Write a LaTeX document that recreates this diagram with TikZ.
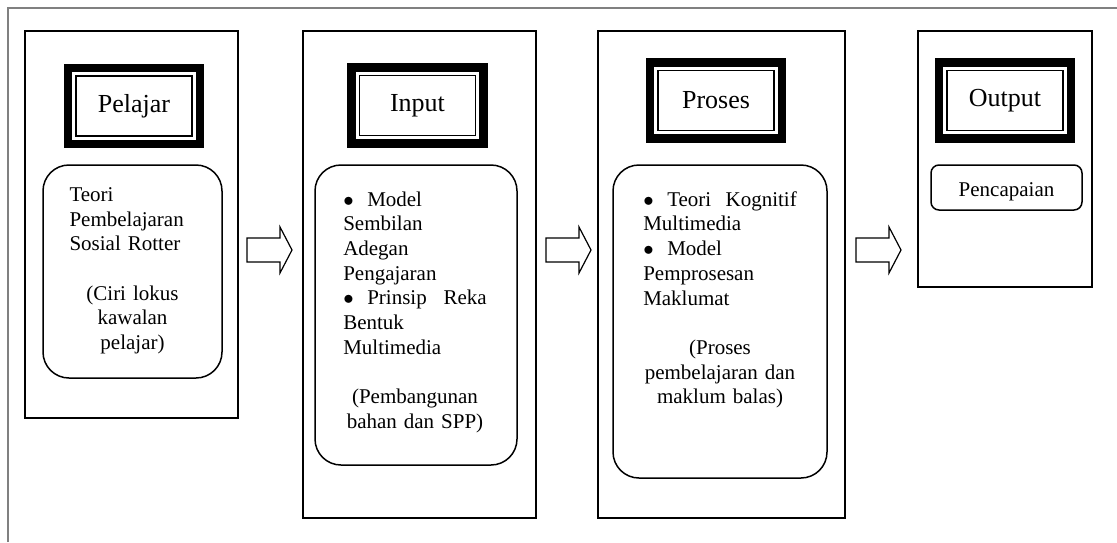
\documentclass[tikz,border=0pt]{standalone}
\usepackage{fontspec}
\setmainfont{Liberation Serif}
\usepackage{tikz}

\newcommand{\bulitem}[1]{\noindent\hangindent=24pt\hangafter=1\makebox[24pt][l]{$\bullet$}#1\par}

\begin{document}
\begin{tikzpicture}[x=1pt, y=-1pt,
    colbox/.style={draw=black, line width=1.2pt, inner sep=0pt},
    titlebox/.style={draw=black, line width=1.5pt, outer sep=0pt, inner sep=0pt, minimum width=116pt, minimum height=60pt, font=\fontsize{26}{30}\selectfont},
    thickframe/.style={draw=black, line width=8.5pt},
    roundbox/.style={draw=black, line width=1.5pt, rounded corners=26pt, inner sep=0pt},
    bodytext/.style={inner sep=0pt, align=left, font=\fontsize{21}{24.7}\selectfont},
    blockarrow/.style={draw=black, line width=1.2pt, fill=white}]
    \useasboundingbox (0,0) rectangle (1117,542);
    \draw[gray, line width=1.5pt] (8,542) -- (8,8) -- (1117,8);

    % the four stages
    \node (pelajarcol) at (131.5,224.5) [colbox, minimum width=213pt, minimum height=387pt] {};
    \node (inputcol) at (419.5,274.5) [colbox, minimum width=233pt, minimum height=487pt] {};
    \node (prosescol) at (721.5,274.5) [colbox, minimum width=247pt, minimum height=487pt] {};
    \node (outputcol) at (1005,159) [colbox, minimum width=174pt, minimum height=256pt] {};

    % titles
    \node (pelajar) at (134,106) [titlebox] {Pelajar};
    \node (input) at (417.5,105.5) [titlebox] {Input};
    \node (proses) at (716,100.5) [titlebox] {Proses};
    \node (output) at (1005,100.5) [titlebox] {Output};
    \foreach \t in {pelajar,input,proses,output}
        \draw[thickframe] ([shift={(-8pt,8pt)}]\t.north west) rectangle ([shift={(8pt,-8pt)}]\t.south east);

    % contents
    \node (teori) at (132.5,271.5) [roundbox, minimum width=179pt, minimum height=213pt] {};
    \node (model) at (416,315) [roundbox, minimum width=202pt, minimum height=300pt] {};
    \node (kognitif) at (720,321.5) [roundbox, minimum width=214pt, minimum height=313pt] {};
    \node (capai) at (1006.5,187.5) [roundbox, rounded corners=8pt, minimum width=151pt, minimum height=45pt, text height=18.4pt, text depth=0pt, font=\fontsize{21}{24.7}\selectfont] {Pencapaian};

    \node (teoritext) [bodytext, text width=126pt, anchor=north] at ([yshift=-23pt]teori.north) {Teori\\Pembelajaran\\Sosial Rotter\par\vspace{24.7pt}{\centering (Ciri lokus\\kawalan\\pelajar)\par}};
    \node (modeltext) [bodytext, text width=143.5pt, anchor=north] at ([xshift=-1pt, yshift=-27pt]model.north) {\bulitem{Model\\Sembilan\\Adegan\\Pengajaran}\bulitem{Prinsip\hfill Reka\\Bentuk\\Multimedia}\vspace{24.7pt}{\centering (Pembangunan\\bahan dan SPP)\par}};
    \node (kognitiftext) [bodytext, text width=153.5pt, anchor=north] at ([yshift=-27pt]kognitif.north) {\bulitem{Teori\hfill Kognitif\\Multimedia}\bulitem{Model\\Pemprosesan\\Maklumat}\vspace{24.7pt}{\centering (Proses\\pembelajaran dan\\maklum balas)\par}};

    % arrows between stages
    \foreach \x in {247,546,856}
        \draw[blockarrow] (\x,238) -- ++(33,0) -- ++(0,-11) -- ++(12,23) -- ++(-12,23) -- ++(0,-11) -- ++(-33,0) -- cycle;
\end{tikzpicture}
\end{document}
